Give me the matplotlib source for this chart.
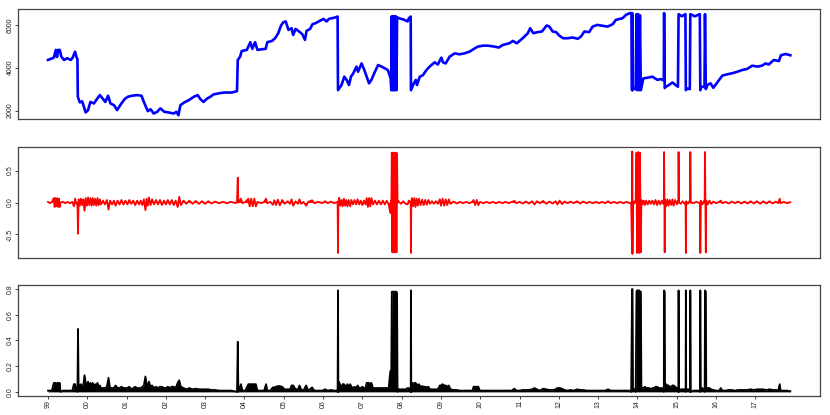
"""
Price level, log returns and absolute returns, 1999-2017
"""

import numpy as np
import matplotlib.pyplot as plt

plt.rcParams['font.family'] = ['Liberation Sans', 'DejaVu Sans']

# price level (decimal year, value)
price_dates = [
    1999.00, 1999.15, 1999.20, 1999.23, 1999.26, 1999.30, 1999.34, 1999.41, 1999.49, 1999.58,
    1999.63, 1999.69, 1999.73, 1999.75, 1999.76, 1999.81, 1999.87, 1999.96, 2000.02, 2000.08,
    2000.17, 2000.24, 2000.32, 2000.41, 2000.46, 2000.53, 2000.59, 2000.68, 2000.76, 2000.85,
    2000.95, 2001.03, 2001.14, 2001.27, 2001.38, 2001.44, 2001.54, 2001.61, 2001.69, 2001.78,
    2001.86, 2001.96, 2002.07, 2002.20, 2002.27, 2002.32, 2002.37, 2002.47, 2002.58, 2002.71,
    2002.81, 2002.88, 2002.96, 2003.05, 2003.13, 2003.21, 2003.34, 2003.48, 2003.68, 2003.81,
    2003.83, 2003.89, 2003.93, 2004.06, 2004.15, 2004.20, 2004.27, 2004.33, 2004.44, 2004.54,
    2004.58, 2004.70, 2004.78, 2004.86, 2004.93, 2004.99, 2005.05, 2005.12, 2005.20, 2005.24,
    2005.30, 2005.39, 2005.47, 2005.54, 2005.58, 2005.67, 2005.73, 2005.81, 2005.92, 2006.01,
    2006.09, 2006.15, 2006.23, 2006.30, 2006.37, 2006.38, 2006.47, 2006.54, 2006.60, 2006.66,
    2006.71, 2006.77, 2006.85, 2006.89, 2006.98, 2007.05, 2007.11, 2007.17, 2007.23, 2007.32,
    2007.40, 2007.49, 2007.57, 2007.65, 2007.72, 2007.736, 2007.749, 2007.764, 2007.782, 2007.799,
    2007.815, 2007.832, 2007.850, 2007.868, 2007.883, 2007.95, 2008.05, 2008.15, 2008.18, 2008.23,
    2008.236, 2008.31, 2008.36, 2008.39, 2008.46, 2008.54, 2008.63, 2008.71, 2008.84, 2008.92,
    2009.01, 2009.05, 2009.12, 2009.22, 2009.35, 2009.47, 2009.60, 2009.73, 2009.86, 2009.94,
    2010.07, 2010.19, 2010.36, 2010.47, 2010.57, 2010.74, 2010.83, 2010.93, 2011.08, 2011.21,
    2011.27, 2011.35, 2011.46, 2011.57, 2011.69, 2011.76, 2011.84, 2011.93, 2012.01, 2012.11,
    2012.22, 2012.35, 2012.48, 2012.56, 2012.65, 2012.77, 2012.86, 2012.98, 2013.07, 2013.24,
    2013.37, 2013.45, 2013.62, 2013.71, 2013.81, 2013.848, 2013.862, 2013.868, 2013.874, 2013.91,
    2013.954, 2013.975, 2013.990, 2014.018, 2014.043, 2014.063, 2014.086, 2014.15, 2014.25, 2014.38,
    2014.51, 2014.59, 2014.67, 2014.678, 2014.693, 2014.72, 2014.80, 2014.89, 2014.97, 2015.03,
    2015.046, 2015.13, 2015.22, 2015.231, 2015.27, 2015.332, 2015.345, 2015.46, 2015.586, 2015.599,
    2015.62, 2015.706, 2015.718, 2015.739, 2015.78, 2015.86, 2015.93, 2016.03, 2016.16, 2016.28,
    2016.41, 2016.54, 2016.66, 2016.79, 2016.92, 2017.05, 2017.17, 2017.26, 2017.34, 2017.47,
    2017.60, 2017.65, 2017.77, 2017.89,
]
price_vals = [
    4360, 4470, 4830, 4500, 4830, 4830, 4515, 4360, 4440, 4360,
    4470, 4750, 4470, 4400, 2640, 2380, 2430, 1910, 2020, 2400,
    2330, 2520, 2720, 2520, 2400, 2690, 2330, 2250, 2020, 2280,
    2530, 2640, 2690, 2720, 2690, 2400, 1970, 2060, 1860, 1940,
    2100, 1940, 1910, 1860, 1940, 1780, 2250, 2380, 2480, 2640,
    2720, 2530, 2400, 2560, 2640, 2750, 2800, 2840, 2840, 2905,
    4360, 4515, 4780, 4830, 5190, 4880, 5190, 4830, 4860, 4880,
    5190, 5250, 5375, 5610, 5970, 6125, 6160, 5765, 5840, 5530,
    5810, 5690, 5570, 5300, 5720, 5810, 6030, 6080, 6190, 6280,
    6160, 6280, 6310, 6340, 6390, 2950, 3190, 3580, 3430, 3190,
    3580, 3740, 4050, 3810, 4200, 3890, 3580, 3270, 3430, 3810,
    4125, 4050, 3970, 3890, 3500, 2950, 6400, 2950, 6400, 2950,
    6400, 2950, 6400, 2950, 6350, 6300, 6250, 6160, 6300, 6390,
    2950, 3270, 3430, 3190, 3580, 3650, 3890, 4050, 4250, 4150,
    4470, 4250, 4200, 4515, 4670, 4625, 4670, 4750, 4905, 4985,
    5030, 5030, 4985, 4940, 5060, 5140, 5250, 5140, 5375, 5610,
    5845, 5610, 5660, 5690, 5970, 5920, 5690, 5660, 5500, 5375,
    5375, 5410, 5350, 5450, 5690, 5660, 5920, 6000, 5970, 5920,
    6030, 6235, 6310, 6470, 6550, 6550, 2950, 6550, 2950, 3050,
    3000, 6500, 2950, 6500, 2950, 6450, 2950, 3500, 3530, 3580,
    3430, 3470, 3400, 6550, 3050, 3110, 3190, 3310, 3190, 3110,
    6500, 6400, 6500, 2950, 3030, 3000, 6500, 6400, 6500, 2950,
    3110, 3100, 6500, 3000, 3190, 3270, 3060, 3310, 3630, 3690,
    3740, 3810, 3890, 3940, 4095, 4050, 4095, 4200, 4150, 4360,
    4310, 4580, 4640, 4580,
]

# log returns (decimal year, value)
ret_dates = [
    1999.00, 1999.05, 1999.10, 1999.15, 1999.17, 1999.19, 1999.21, 1999.24, 1999.26, 1999.28,
    1999.30, 1999.32, 1999.38, 1999.44, 1999.50, 1999.56, 1999.62, 1999.66, 1999.69, 1999.72,
    1999.75, 1999.765, 1999.78, 1999.81, 1999.84, 1999.87, 1999.90, 1999.93, 1999.96, 1999.99,
    2000.02, 2000.05, 2000.08, 2000.11, 2000.14, 2000.17, 2000.20, 2000.23, 2000.26, 2000.29,
    2000.32, 2000.35, 2000.40, 2000.45, 2000.50, 2000.54, 2000.58, 2000.63, 2000.68, 2000.72,
    2000.77, 2000.82, 2000.87, 2000.92, 2000.97, 2001.02, 2001.07, 2001.12, 2001.17, 2001.22,
    2001.27, 2001.32, 2001.36, 2001.40, 2001.44, 2001.48, 2001.51, 2001.54, 2001.57, 2001.61,
    2001.65, 2001.70, 2001.75, 2001.80, 2001.85, 2001.90, 2001.95, 2002.00, 2002.05, 2002.10,
    2002.15, 2002.20, 2002.25, 2002.30, 2002.34, 2002.38, 2002.45, 2002.52, 2002.60, 2002.68,
    2002.76, 2002.84, 2002.92, 2003.00, 2003.08, 2003.16, 2003.25, 2003.35, 2003.45, 2003.55,
    2003.65, 2003.75, 2003.81, 2003.83, 2003.845, 2003.86, 2003.91, 2003.95, 2004.02, 2004.10,
    2004.13, 2004.17, 2004.21, 2004.25, 2004.29, 2004.33, 2004.42, 2004.50, 2004.55, 2004.58,
    2004.66, 2004.72, 2004.76, 2004.80, 2004.85, 2004.90, 2004.96, 2005.02, 2005.10, 2005.16,
    2005.20, 2005.24, 2005.30, 2005.36, 2005.40, 2005.44, 2005.50, 2005.57, 2005.62, 2005.72,
    2005.78, 2005.88, 2005.98, 2006.05, 2006.12, 2006.20, 2006.28, 2006.36, 2006.37, 2006.38,
    2006.39, 2006.41, 2006.44, 2006.47, 2006.50, 2006.53, 2006.56, 2006.59, 2006.62, 2006.65,
    2006.69, 2006.72, 2006.76, 2006.80, 2006.84, 2006.88, 2006.92, 2006.96, 2007.00, 2007.04,
    2007.08, 2007.11, 2007.14, 2007.17, 2007.20, 2007.23, 2007.27, 2007.32, 2007.37, 2007.42,
    2007.47, 2007.52, 2007.57, 2007.62, 2007.67, 2007.71, 2007.725, 2007.736, 2007.749, 2007.764,
    2007.782, 2007.799, 2007.815, 2007.832, 2007.850, 2007.868, 2007.883, 2007.895, 2007.92, 2007.98,
    2008.04, 2008.10, 2008.15, 2008.18, 2008.22, 2008.230, 2008.236, 2008.245, 2008.26, 2008.29,
    2008.32, 2008.35, 2008.38, 2008.41, 2008.44, 2008.48, 2008.52, 2008.56, 2008.60, 2008.64,
    2008.68, 2008.72, 2008.77, 2008.82, 2008.87, 2008.92, 2008.97, 2009.00, 2009.04, 2009.08,
    2009.12, 2009.16, 2009.20, 2009.24, 2009.32, 2009.40, 2009.48, 2009.56, 2009.64, 2009.72,
    2009.80, 2009.83, 2009.87, 2009.91, 2009.95, 2009.99, 2010.08, 2010.16, 2010.24, 2010.32,
    2010.40, 2010.48, 2010.56, 2010.64, 2010.72, 2010.80, 2010.87, 2010.92, 2011.00, 2011.08,
    2011.16, 2011.24, 2011.32, 2011.38, 2011.44, 2011.52, 2011.60, 2011.68, 2011.76, 2011.84,
    2011.92, 2011.96, 2012.02, 2012.08, 2012.14, 2012.22, 2012.30, 2012.38, 2012.46, 2012.54,
    2012.62, 2012.70, 2012.78, 2012.86, 2012.94, 2013.02, 2013.10, 2013.18, 2013.25, 2013.32,
    2013.40, 2013.48, 2013.56, 2013.64, 2013.72, 2013.80, 2013.84, 2013.862, 2013.868, 2013.874,
    2013.885, 2013.91, 2013.94, 2013.954, 2013.975, 2013.990, 2014.018, 2014.043, 2014.063, 2014.086,
    2014.10, 2014.13, 2014.16, 2014.19, 2014.22, 2014.26, 2014.30, 2014.34, 2014.38, 2014.42,
    2014.46, 2014.50, 2014.54, 2014.58, 2014.62, 2014.66, 2014.670, 2014.678, 2014.693, 2014.70,
    2014.73, 2014.76, 2014.79, 2014.82, 2014.86, 2014.89, 2014.92, 2014.96, 2015.00, 2015.03,
    2015.040, 2015.046, 2015.055, 2015.10, 2015.15, 2015.20, 2015.225, 2015.231, 2015.24, 2015.28,
    2015.32, 2015.340, 2015.345, 2015.355, 2015.42, 2015.50, 2015.58, 2015.593, 2015.599, 2015.61,
    2015.65, 2015.69, 2015.710, 2015.718, 2015.739, 2015.75, 2015.79, 2015.83, 2015.87, 2015.93,
    2016.00, 2016.08, 2016.12, 2016.16, 2016.24, 2016.32, 2016.40, 2016.48, 2016.56, 2016.64,
    2016.72, 2016.80, 2016.88, 2016.96, 2017.04, 2017.12, 2017.20, 2017.28, 2017.36, 2017.44,
    2017.52, 2017.58, 2017.62, 2017.64, 2017.72, 2017.80, 2017.89,
]
ret_vals = [
    0.01, -0.01, 0.01, 0.07, -0.07, 0.07, -0.06, 0.07, -0.07, 0.06,
    -0.07, 0.0, 0.01, -0.01, 0.01, -0.01, 0.01, -0.06, 0.06, -0.02,
    0.0, -0.49, 0.05, -0.05, 0.06, -0.04, 0.05, -0.13, 0.07, -0.05,
    0.08, -0.04, 0.07, -0.05, 0.07, -0.04, 0.06, -0.05, 0.07, -0.04,
    0.05, -0.03, 0.03, -0.03, 0.04, -0.11, 0.03, -0.03, 0.03, -0.05,
    0.03, -0.03, 0.04, -0.03, 0.03, -0.03, 0.04, -0.02, 0.03, -0.04,
    0.03, -0.03, 0.03, -0.04, 0.05, -0.12, 0.06, -0.05, 0.08, -0.04,
    0.05, -0.03, 0.04, -0.03, 0.04, -0.04, 0.03, -0.03, 0.04, -0.03,
    0.04, -0.04, 0.03, -0.07, 0.09, -0.04, 0.03, -0.02, 0.03, -0.02,
    0.025, -0.02, 0.02, -0.02, 0.02, -0.015, 0.015, -0.01, 0.01, -0.01,
    0.01, -0.005, 0.0, 0.39, 0.0, 0.01, 0.06, -0.01, 0.01, 0.06,
    -0.06, 0.06, -0.06, 0.06, -0.06, 0.01, -0.01, 0.01, 0.06, -0.01,
    0.01, -0.035, 0.035, -0.04, 0.045, -0.045, 0.04, -0.02, 0.02, -0.02,
    0.05, -0.05, 0.02, -0.02, 0.05, -0.02, 0.01, -0.05, 0.01, 0.035,
    -0.01, 0.01, -0.01, 0.02, -0.01, 0.015, -0.01, 0.01, 0.0, -0.79,
    0.0, 0.075, -0.05, 0.04, -0.06, 0.06, -0.05, 0.04, -0.06, 0.04,
    -0.06, 0.04, -0.03, 0.04, -0.03, 0.05, -0.03, 0.03, -0.04, 0.03,
    -0.03, 0.07, -0.07, 0.07, -0.06, 0.07, -0.03, 0.03, -0.03, 0.03,
    -0.03, 0.03, -0.03, 0.03, -0.03, -0.16, 0.02, -0.17, 0.78, -0.78,
    0.78, -0.78, 0.78, -0.78, 0.78, -0.78, 0.77, 0.0, 0.02, -0.02,
    0.02, -0.02, -0.03, 0.03, 0.01, 0.0, -0.79, 0.0, 0.07, -0.06,
    0.07, -0.07, 0.06, -0.05, 0.06, -0.04, 0.045, -0.04, 0.04, -0.035,
    0.04, -0.02, 0.02, -0.02, 0.02, -0.02, 0.05, -0.05, 0.06, -0.05,
    0.05, -0.04, 0.05, -0.02, 0.015, -0.015, 0.01, -0.01, 0.01, -0.01,
    0.01, 0.04, -0.04, 0.04, -0.04, 0.01, -0.01, 0.01, -0.01, 0.01,
    -0.01, 0.01, -0.01, 0.01, -0.01, 0.01, 0.025, -0.01, 0.01, -0.015,
    0.015, -0.015, 0.02, -0.03, 0.02, -0.01, 0.025, -0.02, 0.015, -0.015,
    0.02, -0.03, 0.03, -0.025, 0.015, -0.01, 0.015, -0.01, 0.02, -0.015,
    0.015, -0.01, 0.01, -0.01, 0.01, -0.01, 0.01, -0.01, 0.02, -0.01,
    0.01, -0.01, 0.01, -0.01, 0.01, -0.01, 0.0, -0.80, 0.80, -0.80,
    0.02, -0.02, 0.02, 0.0, 0.78, -0.79, 0.79, -0.79, 0.78, -0.78,
    0.04, -0.03, 0.03, -0.04, 0.03, -0.03, 0.03, -0.02, 0.03, -0.03,
    0.04, -0.04, 0.03, -0.03, 0.03, -0.02, 0.0, 0.79, -0.78, 0.05,
    -0.06, 0.05, -0.05, 0.04, -0.04, 0.05, -0.05, 0.04, -0.03, 0.02,
    0.0, 0.79, 0.0, -0.02, 0.02, -0.02, 0.0, -0.79, 0.02, -0.02,
    0.02, 0.0, 0.79, 0.0, -0.01, 0.01, -0.01, 0.0, -0.79, 0.03,
    -0.03, 0.02, 0.0, 0.79, -0.78, 0.03, -0.03, 0.03, -0.02, 0.015,
    -0.01, 0.01, 0.03, -0.01, 0.01, -0.015, 0.015, -0.01, 0.015, -0.015,
    0.015, -0.015, 0.02, -0.015, 0.02, -0.02, 0.02, -0.015, 0.02, -0.015,
    0.015, -0.01, 0.06, -0.01, 0.01, -0.01, 0.005,
]

year_ticks = list(range(1999, 2018))
year_labels = ['99', '00', '01', '02', '03', '04', '05', '06', '07', '08',
               '09', '10', '11', '12', '13', '14', '15', '16', '17']


def style_axis(ax, yticks, ylabels):
    ax.margins(x=0.04, y=0.04)
    ax.set_yticks(yticks)
    ax.set_yticklabels(ylabels, rotation=90, va='center')
    ax.tick_params(axis='y', length=2, width=0.6, pad=1, labelsize=5, colors='#222222')
    for sp in ax.spines.values():
        sp.set_color('#444444')
        sp.set_linewidth(0.9)


def main():
    fig = plt.figure(figsize=(8.3, 4.15), dpi=100)
    ax1 = fig.add_axes([0.022, 0.7125, 0.966, 0.2658])
    ax2 = fig.add_axes([0.022, 0.379, 0.966, 0.266])
    ax3 = fig.add_axes([0.022, 0.0458, 0.966, 0.2675])

    ax1.plot(price_dates, price_vals, color='#0000FF', linewidth=1.9)
    style_axis(ax1, [2000, 4000, 6000], ['2000', '4000', '6000'])
    ax1.set_xticks([])

    # dense daily noise reads as a solid band in the original
    ax2.fill_between(ret_dates, 0, ret_vals, color='#FF0000', linewidth=0, interpolate=True)
    ax2.plot(ret_dates, ret_vals, color='#FF0000', linewidth=1.3)
    style_axis(ax2, [-0.5, 0.0, 0.5], ['-0.5', '0.0', '0.5'])
    ax2.set_xticks([])

    abs_vals = np.abs(ret_vals)
    ax3.fill_between(ret_dates, 0, abs_vals, color='black', linewidth=0)
    ax3.plot(ret_dates, abs_vals, color='black', linewidth=1.3)
    style_axis(ax3, [0.0, 0.2, 0.4, 0.6, 0.8], ['0.0', '0.2', '0.4', '0.6', '0.8'])
    ax3.set_xticks(year_ticks)
    ax3.set_xticklabels(year_labels, rotation=90)
    ax3.tick_params(axis='x', length=2, width=0.6, pad=1, labelsize=5, colors='#222222')

    fig.savefig('out.png', dpi=100)
    plt.close(fig)


if __name__ == "__main__":
    main()
